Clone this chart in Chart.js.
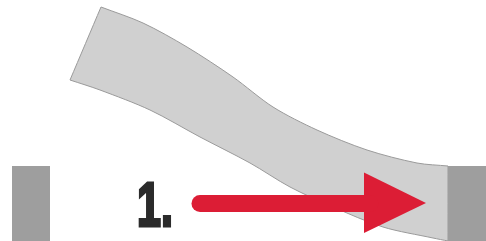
<!DOCTYPE html>
<html>
<head>
<meta charset="utf-8">
<script src="https://cdn.jsdelivr.net/npm/chart.js@4"></script>
<style>
  html, body { margin: 0; padding: 0; background: #ffffff; }
  #sketch { display: block; }
</style>
</head>
<body>
<canvas id="sketch" width="486" height="241"></canvas>
<script>
// outline of the bent strip (x right, y down)
let bandTopX = [101, 143, 187, 233, 273, 317, 367, 417, 448];
let bandTopY = [7, 23, 47, 77, 107, 130, 150, 163, 166];
let bandBottomX = [448, 433, 383, 333, 290, 250, 200, 150, 100, 70];
let bandBottomY = [241, 238, 227, 207, 187, 163, 137, 110, 90, 80];

// the two fixed blocks
let leftBlockX = [12, 50, 50, 12, 12];
let leftBlockY = [166, 166, 241, 241, 166];
let rightBlockX = [448, 486, 486, 448, 448];
let rightBlockY = [166, 166, 241, 241, 166];

// red arrow
let shaftX = [200, 370];
let shaftY = [203.5, 203.5];
let headX = [364, 426, 364, 364];
let headY = [172.5, 203, 233, 172.5];

let stepLabel = "1.";
let labelLeft = 137.5;
let labelRight = 172;
let labelBase = 227.5;

function toPoints(xs, ys) {
    return xs.map((x, i) => ({ x: x, y: ys[i] }));
}

// corners are doubled so the spline stays sharp there
function bandPoints() {
    let top = toPoints(bandTopX, bandTopY);
    let bottom = toPoints(bandBottomX, bandBottomY);
    let pts = [top[0]].concat(top, [top[top.length - 1]], [bottom[0]], bottom, [bottom[bottom.length - 1]]);
    pts.push(top[0], top[0]);
    return pts;
}

function shapeDataset(data, fillColor, lineColor, lineWidth, tension) {
    return {
        data: data,
        showLine: true,
        fill: 'shape',
        backgroundColor: fillColor,
        borderColor: lineColor,
        borderWidth: lineWidth,
        tension: tension,
        pointRadius: 0
    };
}

// heavy condensed numeral: bold face squeezed to the box, stroked to thicken
const labelPlugin = {
    id: 'stepLabel',
    afterDatasetsDraw(chart) {
        let ctx = chart.ctx;
        let x0 = chart.scales.x.getPixelForValue(labelLeft);
        let x1 = chart.scales.x.getPixelForValue(labelRight);
        let y = chart.scales.y.getPixelForValue(labelBase);
        let stroke = 3;
        ctx.save();
        ctx.fillStyle = '#2b2b2b';
        ctx.strokeStyle = '#2b2b2b';
        ctx.lineJoin = 'miter';
        ctx.font = 'bold 63px "Liberation Sans", sans-serif';
        ctx.textBaseline = 'alphabetic';
        let m = ctx.measureText(stepLabel);
        let ink = m.actualBoundingBoxLeft + m.actualBoundingBoxRight;
        let sx = (x1 - x0 - stroke) / ink;
        ctx.translate(x0 + stroke / 2, y - stroke / 2);
        ctx.scale(sx, 1);
        ctx.lineWidth = stroke;
        ctx.fillText(stepLabel, m.actualBoundingBoxLeft, 0);
        ctx.strokeText(stepLabel, m.actualBoundingBoxLeft, 0);
        ctx.restore();
    }
};

let shaft = shapeDataset(toPoints(shaftX, shaftY), '#dc1d35', '#dc1d35', 17, 0);
shaft.fill = false;
shaft.borderCapStyle = 'round';

new Chart(document.getElementById('sketch'), {
    type: 'scatter',
    data: {
        datasets: [
            shaft,
            shapeDataset(toPoints(headX, headY), '#dc1d35', '#dc1d35', 0, 0),
            shapeDataset(toPoints(rightBlockX, rightBlockY), '#9e9e9e', '#9e9e9e', 0, 0),
            shapeDataset(toPoints(leftBlockX, leftBlockY), '#9e9e9e', '#9e9e9e', 0, 0),
            shapeDataset(bandPoints(), '#d0d0d0', '#9a9a9a', 1, 0.3)
        ]
    },
    options: {
        responsive: false,
        animation: false,
        events: [],
        layout: { padding: 0 },
        scales: {
            x: { type: 'linear', min: 0, max: 486, display: false },
            y: { type: 'linear', min: 0, max: 241, reverse: true, display: false }
        },
        plugins: {
            legend: { display: false },
            tooltip: { enabled: false }
        }
    },
    plugins: [labelPlugin]
});
</script>
</body>
</html>
